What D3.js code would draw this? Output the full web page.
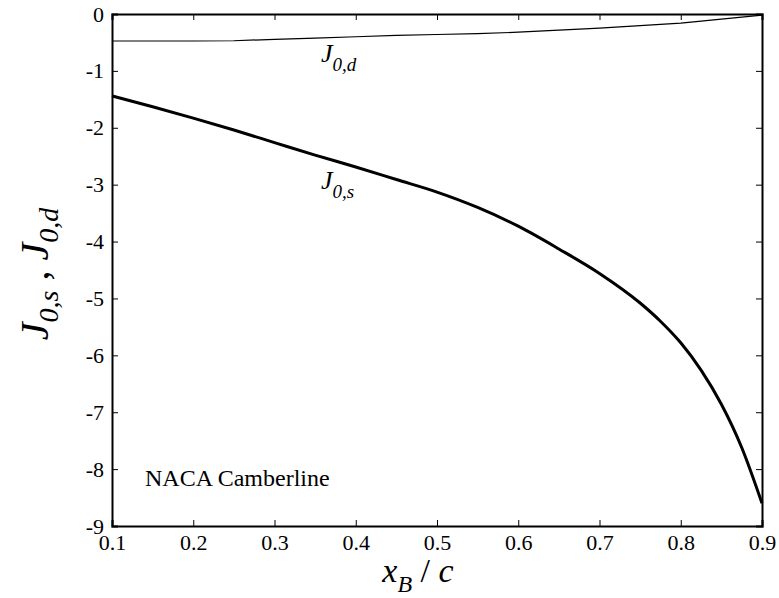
<!DOCTYPE html>
<html>
<head>
<meta charset="utf-8">
<script src="https://cdn.jsdelivr.net/npm/d3@7"></script>
</head>
<body style="margin:0">
<svg id="chart" width="779" height="598"></svg>
<script>
const serifFace = "'Liberation Serif', 'Times New Roman', Times, 'DejaVu Serif', 'Noto Serif', serif";

// Chordwise position x_B / c
const xsD = [0.10, 0.15, 0.20, 0.25, 0.30, 0.35, 0.40, 0.45, 0.50, 0.55, 0.60, 0.65, 0.70, 0.75, 0.80, 0.85, 0.90];
// J_{0,d}
const j0d = [-0.475, -0.475, -0.475, -0.47, -0.445, -0.425, -0.40, -0.375, -0.36, -0.345, -0.32, -0.285, -0.25, -0.205, -0.16, -0.09, -0.02];

const xsS = [0.10, 0.15, 0.20, 0.25, 0.30, 0.35, 0.40, 0.45, 0.50, 0.55, 0.60, 0.65, 0.70, 0.75, 0.775, 0.80, 0.825, 0.85, 0.875, 0.90];
// J_{0,s}
const j0s = [-1.44, -1.63, -1.83, -2.04, -2.26, -2.48, -2.69, -2.91, -3.13, -3.40, -3.73, -4.13, -4.56, -5.08, -5.40, -5.78, -6.26, -6.86, -7.62, -8.60];

const xTicks = [0.1, 0.2, 0.3, 0.4, 0.5, 0.6, 0.7, 0.8, 0.9];
const yTicks = [0, -1, -2, -3, -4, -5, -6, -7, -8, -9];

const svg = d3.select("#chart");
const mLeft = 112, mRight = 762, mTop = 14, mBottom = 526;

const x = d3.scaleLinear().domain([0.1, 0.9]).range([mLeft, mRight]);
const y = d3.scaleLinear().domain([-9, 0]).range([mBottom, mTop]);

function frameAxis(g) {
  g.attr("font-family", null).attr("font-size", null);
  g.select(".domain").attr("stroke", "#000").attr("stroke-width", 2);
  g.selectAll(".tick line").attr("stroke", "#000");
  g.selectAll("text").style("font-family", serifFace).attr("font-size", 22).attr("fill", "#000");
}

// frame and ticks (inward-pointing, mirrored on top and right)
svg.append("g")
  .attr("transform", `translate(0,${mBottom})`)
  .call(d3.axisBottom(x).tickValues(xTicks).tickSize(-6).tickPadding(11).tickFormat(d => d.toFixed(1)))
  .call(frameAxis)
  .call(g => g.selectAll("text").attr("dy", "0.6em"));

svg.append("g")
  .attr("transform", `translate(0,${mTop})`)
  .call(d3.axisTop(x).tickValues(xTicks).tickSize(-6).tickFormat(""))
  .call(frameAxis);

svg.append("g")
  .attr("transform", `translate(${mLeft},0)`)
  .call(d3.axisLeft(y).tickValues(yTicks).tickSize(-6).tickPadding(8).tickFormat(d => String(d)))
  .call(frameAxis);

svg.append("g")
  .attr("transform", `translate(${mRight},0)`)
  .call(d3.axisRight(y).tickValues(yTicks).tickSize(-6).tickFormat(""))
  .call(frameAxis);

// curves
const lineD = d3.line().x((d, i) => x(xsD[i])).y(d => y(d));
const lineS = d3.line().x((d, i) => x(xsS[i])).y(d => y(d)).curve(d3.curveMonotoneX);

svg.append("path").datum(j0d)
  .attr("d", lineD).attr("fill", "none").attr("stroke", "#000").attr("stroke-width", 1.2);
svg.append("path").datum(j0s)
  .attr("d", lineS).attr("fill", "none").attr("stroke", "#000").attr("stroke-width", 3)
  .attr("stroke-linejoin", "round");

// curve labels
function jLabel(px, py, sub) {
  const t = svg.append("text").attr("x", px).attr("y", py)
    .style("font-family", serifFace).style("font-style", "italic")
    .attr("font-size", 26).attr("fill", "#000");
  t.append("tspan").text("J");
  t.append("tspan").attr("dy", 9).attr("font-size", 19).text(sub);
}
jLabel(321, 62, "0,d");
jLabel(321, 189, "0,s");

svg.append("text").attr("x", 145).attr("y", 486)
  .style("font-family", serifFace).attr("font-size", 24).attr("fill", "#000")
  .text("NACA Camberline");

// x-axis title
const xt = svg.append("text").attr("x", 418).attr("y", 582)
  .style("font-family", serifFace).attr("text-anchor", "middle")
  .attr("font-size", 34).attr("fill", "#000");
xt.append("tspan").style("font-style", "italic").text("x");
xt.append("tspan").attr("font-size", 24).style("font-style", "italic").attr("dy", 10).text("B");
xt.append("tspan").attr("dy", -10).text(" / ");
xt.append("tspan").style("font-style", "italic").text("c");

// y-axis title
const yt = svg.append("text")
  .attr("transform", "translate(48,274) rotate(-90)")
  .style("font-family", serifFace).attr("text-anchor", "middle")
  .attr("font-size", 40).style("font-style", "italic").attr("fill", "#000");
yt.append("tspan").text("J");
yt.append("tspan").attr("font-size", 28).attr("dy", 10).text("0,s");
yt.append("tspan").attr("dy", -10).style("font-style", "normal").text(" , ");
yt.append("tspan").text("J");
yt.append("tspan").attr("font-size", 28).attr("dy", 10).text("0,d");
</script>
</body>
</html>
